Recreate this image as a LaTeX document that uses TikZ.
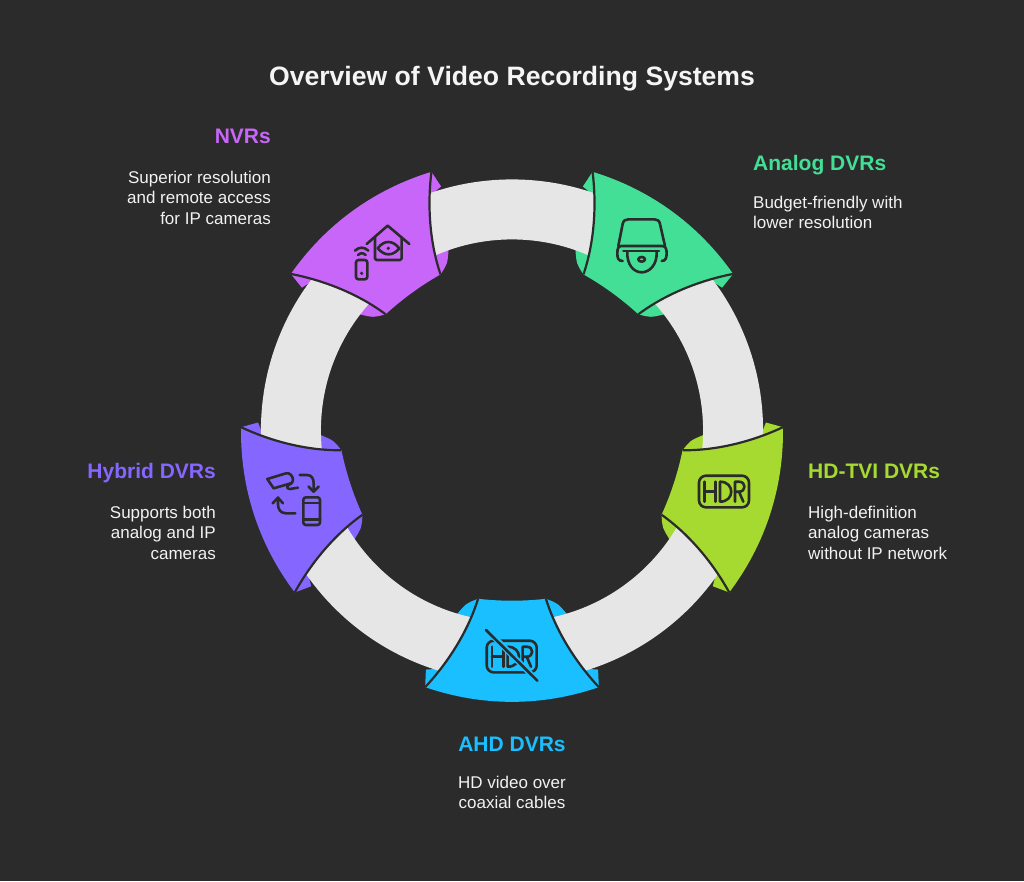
\documentclass[tikz,border=0pt]{standalone}
\usepackage{fontspec}
\setmainfont{Liberation Sans}
\definecolor{bgdark}{HTML}{2B2B2B}
\definecolor{ringgray}{HTML}{E6E6E6}
\definecolor{analogcol}{HTML}{43DF96}
\definecolor{tvicol}{HTML}{A6DA30}
\definecolor{ahdcol}{HTML}{19BFFF}
\definecolor{hybridcol}{HTML}{8567FF}
\definecolor{nvrcol}{HTML}{C966FA}
\tikzset{
	heading/.style={inner sep=0pt,font=\fontsize{21}{24}\selectfont\bfseries},
	bodytext/.style={inner sep=0pt,text=white!95!black,font=\fontsize{17}{20.5}\selectfont},
	icon/.style={draw=bgdark,line width=2.6pt,line cap=round,line join=round},
	zoomed/.style={x=0.3333pt,y=-0.3333pt}
}
% the rectangle and the letters of the HDR mark
\newcommand{\hdrglyph}{
	\draw[icon,rounded corners=7pt] (0,0) rectangle (150,95);
	\draw[icon] (16,18)--(16,78) (50,18)--(50,78) (16,48)--(50,48);
	\draw[icon] (63,18)--(63,78) (63,18) .. controls (108,18) and (108,78) .. (63,78);
	\draw[icon] (108,78)--(108,18)--(120,18) .. controls (142,18) and (142,48) .. (120,48)--(108,48) (120,48)--(133,78);
}
\begin{document}
\begin{tikzpicture}[x=1pt,y=1pt]
	\fill[bgdark] (-512,-448) rectangle (512,433);
	\useasboundingbox (-512,-448) rectangle (512,433);
	\begin{scope}[shift={(0,2.5)},scale=0.9925]
	% ears behind the ring
	\foreach \a/\col in {54/analogcol,-18/tvicol,270/ahdcol,198/hybridcol,126/nvrcol}{
		\foreach \s in {1,-1}{
			\fill[\col] (\a+\s*18.7:273)--(\a+\s*19.8:256)--(\a+\s*15:248)--cycle;
			\fill[\col] (\a+\s*11.4:173) .. controls (\a+\s*14.8:180) .. (\a+\s*16.6:192.5)--(\a+\s*16:198)--(\a+\s*11:198)--cycle;
		}
	}
	\draw[line width=60pt,ringgray] (0,0) circle (222.75);
	% the five tiles
	\foreach \a/\col in {54/analogcol,-18/tvicol,270/ahdcol,198/hybridcol,126/nvrcol}{
		\fill[\col] (\a+18.7:273) .. controls (\a+6.2:280) and (\a-6.2:280) .. (\a-18.7:273)
			.. controls (\a-14.5:235.5) and (\a-12.15:199.5) .. (\a-11.4:173)
			.. controls (\a-3.7:172.5) and (\a+3.7:172.5) .. (\a+11.4:173)
			.. controls (\a+12.15:199.5) and (\a+14.5:235.5) .. cycle;
		\foreach \s in {1,-1}
			\draw[icon,line width=2.2pt,line cap=butt] (\a+\s*18.7:273) .. controls (\a+\s*14.5:235.5) and (\a+\s*12.15:199.5) .. (\a+\s*11.4:173);
	}
	\end{scope}
	% icons
	\begin{scope}[shift={(48,283)},zoomed]
		\draw[icon] (175,288) -- (188,222) .. controls (190,212) and (196,208) .. (205,208) -- (283,208) .. controls (292,208) and (298,212) .. (300,222) -- (315,288);
		\draw[icon] (188,333) .. controls (175,333) and (172,325) .. (172,310) .. controls (172,295) and (175,288) .. (185,288) -- (305,288) .. controls (316,288) and (320,295) .. (320,310) .. controls (320,325) and (316,333) .. (305,333);
		\draw[icon] (190,303)--(297,303);
		\draw[icon] (202,305) .. controls (200,345) and (222,367) .. (245,367) .. controls (268,367) and (292,345) .. (290,305);
		\draw[icon] (245,328) ellipse (10 and 7);
	\end{scope}
	\begin{scope}[shift={(187,-42.7)},zoomed]
		\hdrglyph
	\end{scope}
	\begin{scope}[shift={(-25.3,-207.7)},zoomed]
		\hdrglyph
		\draw[ahdcol,line width=6pt] (0,-33)--(152,120);
		\draw[icon] (-2,-32)--(152,120);
	\end{scope}
	\begin{scope}[shift={(-250,-32)},zoomed]
		\draw[icon] (16,42)--(72,25) .. controls (85,22) and (93,35) .. (93,45) .. controls (93,52) and (90,55) .. (83,56)--(35,70)--cycle;
		\draw[icon] (88,56) .. controls (72,60) and (72,72) .. (84,72)--(108,68);
		\draw[icon] (113,30)--(135,30) .. controls (150,30) and (155,42) .. (155,55)--(155,80);
		\draw[icon] (140,65)--(155,80)--(170,65);
		\draw[icon] (100,145)--(72,145) .. controls (55,145) and (48,132) .. (48,118)--(48,98);
		\draw[icon] (32,115)--(48,98)--(63,115);
		\draw[icon,rounded corners=2.5pt] (124,97) rectangle (174,180);
		\draw[icon] (124,114)--(174,114) (124,164)--(174,164);
	\end{scope}
	\begin{scope}[shift={(-162,213)},zoomed]
		\draw[icon] (50,72)--(113,17)--(178,72);
		\draw[icon,rounded corners=1.5pt] (75,52)--(75,120)--(155,120)--(155,52);
		\draw[icon] (83,85) .. controls (95,70) and (105,66) .. (115,66) .. controls (127,66) and (137,72) .. (148,85) .. controls (137,98) and (127,103) .. (115,103) .. controls (105,103) and (95,98) .. cycle;
		\fill[bgdark] (115,85) circle (5.5);
		\draw[icon] (15,92) .. controls (28,80) and (42,80) .. (55,92);
		\draw[icon] (24,105) .. controls (32,98) and (39,98) .. (47,105);
		\draw[icon,rounded corners=2.5pt] (18,120) rectangle (52,178);
		\fill[bgdark] (35,160) circle (5.5);
	\end{scope}
	% texts
	\node[inner sep=0pt,anchor=base,text=white!96!black,font=\fontsize{26.6}{30}\selectfont\bfseries] (title) at (0,347) {Overview of Video Recording Systems};
	\node[heading,text=nvrcol,anchor=base east] (nvrhead) at (-241,289) {NVRs};
	\node[bodytext,anchor=north east,align=right] (nvrtext) at (-241,262.5) {Superior resolution\\and remote access\\for IP cameras};
	\node[heading,text=analogcol,anchor=base west] (analoghead) at (241,262) {Analog DVRs};
	\node[bodytext,anchor=north west,align=left] (analogtext) at (241,237.5) {Budget-friendly with\\lower resolution};
	\node[heading,text=tvicol,anchor=base west] (tvihead) at (296,-45) {HD-TVI DVRs};
	\node[bodytext,anchor=north west,align=left] (tvitext) at (296,-72.5) {High-definition\\analog cameras\\without IP network};
	\node[heading,text=hybridcol,anchor=base east] (hybridhead) at (-296,-45) {Hybrid DVRs};
	\node[bodytext,anchor=north east,align=right] (hybridtext) at (-296,-72.5) {Supports both\\analog and IP\\cameras};
	\node[heading,text=ahdcol,anchor=base] (ahdhead) at (0,-318) {AHD DVRs};
	\node[bodytext,anchor=north,align=center] (ahdtext) at (0,-342.5) {HD video over\\coaxial cables};
\end{tikzpicture}
\end{document}
